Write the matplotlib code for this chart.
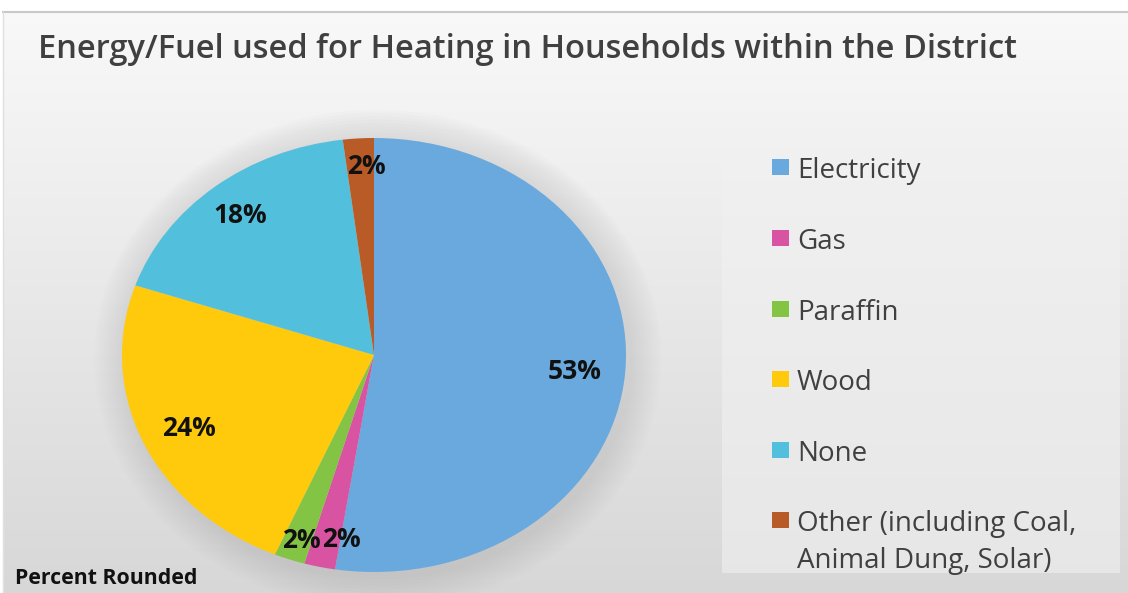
import numpy as np
import matplotlib.pyplot as plt
from matplotlib.patches import Rectangle, Ellipse

# heating fuel shares (percent, rounded)
fuels = ["Electricity", "Gas", "Paraffin", "Wood", "None",
         "Other (including Coal,\nAnimal Dung, Solar)"]
shares = [53, 2, 2, 24, 18, 2]
colors = ["#6aa9dd", "#d953a3", "#84c444", "#ffca0c", "#52c0dc", "#b95b26"]

# label placement: radial distance and angular nudge (degrees) per slice
label_dist = [0.80, 0.86, 0.90, 0.81, 0.835, 0.87]
label_shift = [-1.0, 3.7, 1.0, 0.7, 0.4, -1.5]

plt.rcParams['font.family'] = ['Open Sans', 'DejaVu Sans']

fig = plt.figure(figsize=(11.28, 5.93), dpi=100)
fig.patch.set_facecolor("white")

# gradient background panel
bg = fig.add_axes([3 / 1128, 0, 1, (593 - 12) / 593])
grad = np.linspace(0.975, 0.845, 256)[:, None]
bg.imshow(np.dstack([grad, grad, grad]), aspect="auto", extent=[0, 1, 0, 1])
bg.set_axis_off()
fig.add_artist(plt.Line2D([3 / 1128, 1], [(593 - 12) / 593] * 2,
                          color="#c8c8c8", lw=1.5))
fig.add_artist(plt.Line2D([3 / 1128] * 2, [0, (593 - 12) / 593],
                          color="#e0e0e0", lw=1))

# legend panel
fig.add_artist(Rectangle((722 / 1128, (593 - 573) / 593), 398 / 1128, 425 / 593,
                         transform=fig.transFigure, facecolor="#f1f1f1",
                         edgecolor="none", alpha=0.6))

ax = fig.add_axes([122 / 1128, 21 / 593, 504 / 1128, 434 / 593])
ax.patch.set_alpha(0)

# soft shadow behind the pie
for k in range(10):
    ax.add_patch(Ellipse((0.015, -0.02), 2 + 0.025 * (k + 1), 2 + 0.03 * (k + 1),
                         facecolor="#909090", edgecolor="none", alpha=0.022,
                         zorder=0, clip_on=False))

wedges, _ = ax.pie(shares, colors=colors, startangle=90, counterclock=False,
                   wedgeprops=dict(linewidth=0))
for w in wedges:
    w.set_zorder(2)
ax.set_aspect("auto")
ax.set_xlim(-1, 1)
ax.set_ylim(-1, 1)

for w, v, d, s in zip(wedges, shares, label_dist, label_shift):
    mid = np.deg2rad((w.theta1 + w.theta2) / 2 + s)
    ax.text(d * np.cos(mid), d * np.sin(mid), f"{v}%", ha="center", va="center",
            fontsize=19, fontweight="bold", color="#111111", zorder=3)

fig.text(38 / 1128, 1 - 50 / 593,
         "Energy/Fuel used for Heating in Households within the District",
         fontsize=23.5, fontweight="semibold", color="#404040", va="center")
fig.text(15 / 1128, 1 - 579 / 593, "Percent Rounded", fontsize=15.3,
         fontweight="bold", color="#111111", va="center")

# legend entries
ys = [169, 240, 311, 381, 452, 522]
for y, lab, col in zip(ys, fuels, colors):
    fig.add_artist(Rectangle((772 / 1128, 1 - (y + 6) / 593), 17 / 1128, 16 / 593,
                             transform=fig.transFigure, facecolor=col,
                             edgecolor="none"))
    fig.text(797 / 1128, 1 - (y - 12) / 593, lab, fontsize=20, color="#404040",
             va="top", linespacing=1.44)

fig.savefig("out.png", dpi=100)
